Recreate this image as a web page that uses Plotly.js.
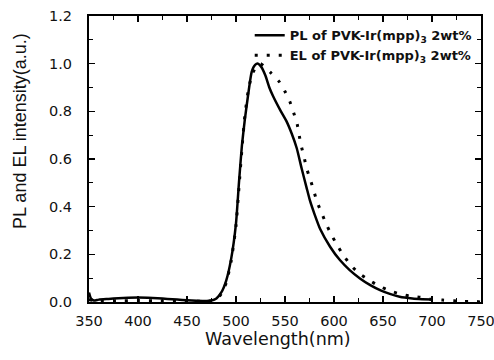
<!DOCTYPE html>
<html><head><meta charset="utf-8">
<script src="https://cdn.plot.ly/plotly-3.0.1.min.js"></script>
<style>body{margin:0;background:#fff}</style>
</head><body><div id="c" style="width:494px;height:360px"></div>
<script>
const plWavelength = [350,352,355,360,370,380,390,400,410,420,430,440,450,460,470,475,480,485,490,495,500,503,506,509,512.6,516,519.5,522.5,526,530,534,538,545,551.7,557,562,567,572,575.5,580,586,596,606,616,626.5,637,647,657,667,680,690,700];
const plIntensity  = [0.04,0.015,0.006,0.01,0.013,0.016,0.018,0.019,0.018,0.016,0.013,0.01,0.007,0.005,0.004,0.006,0.015,0.04,0.09,0.18,0.33,0.5,0.655,0.765,0.876,0.966,0.995,1.0,0.985,0.95,0.9,0.862,0.806,0.757,0.705,0.645,0.56,0.48,0.425,0.37,0.305,0.232,0.176,0.134,0.099,0.071,0.05,0.034,0.022,0.015,0.012,0.01];
const elWavelength = [350,360,380,400,420,440,460,470,480,485,490,495,500,503,506,509,513,517,521,525,531,536,544,550,555,559,562.5,566,569.4,572,576,579.6,583,587.5,592.5,596.6,602.7,609.5,617,625.5,635.7,646,657,667,677,688,698,711,722,732,743,750];
const elIntensity  = [0.01,0.004,0.005,0.006,0.005,0.004,0.003,0.003,0.01,0.035,0.08,0.17,0.32,0.48,0.64,0.78,0.9,0.96,0.99,1.0,0.98,0.96,0.925,0.883,0.84,0.792,0.745,0.665,0.61,0.561,0.512,0.463,0.417,0.372,0.323,0.288,0.242,0.197,0.155,0.12,0.092,0.067,0.047,0.034,0.025,0.02,0.012,0.008,0.005,0.002,0.003,0.0];
const seriesNames = ['PL of PVK-Ir(mpp)<sub>3</sub> 2wt%','EL of PVK-Ir(mpp)<sub>3</sub> 2wt%'];
const xTicks = [350,400,450,500,550,600,650,700,750];
const yTicks = [0.0,0.2,0.4,0.6,0.8,1.0,1.2];
const xTitle = 'Wavelength(nm)';
const yTitle = 'PL and EL intensity(a.u.)';

const wide = {family:'DejaVu Sans, sans-serif', color:'#111'};
const arial = {family:'Liberation Sans, Arial, sans-serif', color:'#111'};
const traces = [
  {x:plWavelength, y:plIntensity, name:seriesNames[0], mode:'lines', line:{color:'#000', width:2.5, shape:'spline', smoothing:0.5}},
  {x:elWavelength, y:elIntensity, name:seriesNames[1], mode:'lines', line:{color:'#000', width:3, dash:'3px,9px', shape:'spline', smoothing:0.5}}
];
const axisCommon = {showgrid:false, zeroline:false, showline:true, linecolor:'#000', linewidth:2, mirror:'ticks',
  ticks:'inside', ticklen:6, tickwidth:1.5, tickcolor:'#000', tickfont:{...wide, size:14.5}, ticklabeloverflow:'allow',
  minor:{ticks:'inside', ticklen:4, tickwidth:1, tickcolor:'#000'}};
const layout = {
  width:494, height:360, margin:{l:89, r:13, t:16, b:58},
  paper_bgcolor:'#fff', plot_bgcolor:'#fff', font:wide, showlegend:true,
  xaxis:{...axisCommon, range:[350,750], tickvals:xTicks, ticktext:xTicks.map(String), ticklabelstandoff:5,
    minor:{...axisCommon.minor, dtick:25, tick0:350}},
  yaxis:{...axisCommon, range:[0,1.2], tickvals:yTicks, ticktext:yTicks.map(v=>v.toFixed(1)), ticklabelstandoff:12,
    minor:{...axisCommon.minor, dtick:0.1, tick0:0}},
  annotations:[
    {text:xTitle, xref:'paper', yref:'paper', x:0.482, y:-0.129, xanchor:'center', yanchor:'middle', showarrow:false, font:{...wide, size:17.5}},
    {text:yTitle, xref:'paper', yref:'paper', x:-0.176, y:0.598, xanchor:'center', yanchor:'middle', textangle:-90, showarrow:false, font:{...arial, size:18}}
  ],
  legend:{x:0.41, y:0.985, xanchor:'left', yanchor:'top', bgcolor:'rgba(0,0,0,0)', borderwidth:0,
    font:{...wide, size:13, weight:'bold'}, tracegroupgap:0, itemwidth:30}
};
Plotly.newPlot('c', traces, layout, {staticPlot:true, displayModeBar:false});
</script></body></html>
